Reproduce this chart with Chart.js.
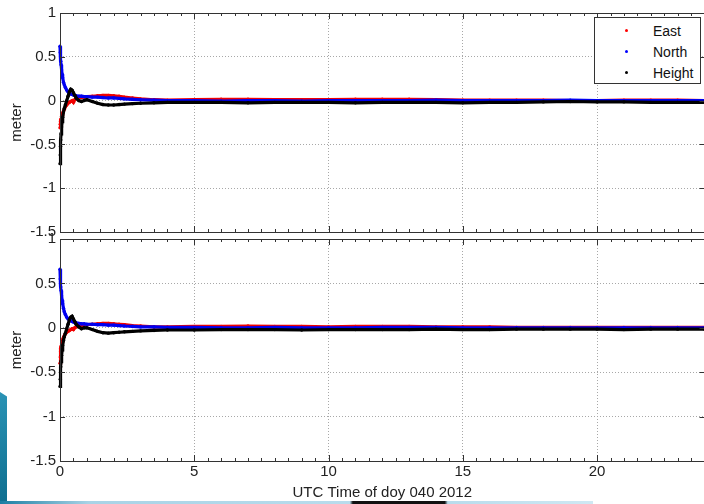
<!DOCTYPE html>
<html>
<head>
<meta charset="utf-8">
<title>Position error, doy 040 2012</title>
<script src="https://cdn.jsdelivr.net/npm/chart.js@4.4.1/dist/chart.umd.min.js"></script>
<style>
    html, body {
        margin: 0;
        padding: 0;
        width: 704px;
        height: 504px;
        overflow: hidden;
        background: #fff;
        font-family: 'Liberation Sans', Arial, sans-serif;
    }
    .panel {
        position: absolute;
        left: 0;
    }
    #topPanel { top: 0; }
    #bottomPanel { top: 226px; }
    .legend {
        position: absolute;
        left: 594px;
        top: 17px;
        width: 105px;
        height: 65px;
        border: 1px solid #333;
        background: #fff;
        font-size: 14px;
        color: #111;
    }
    .legend .row {
        position: absolute;
        left: 0;
        height: 16px;
        line-height: 16px;
    }
    .legend .dot {
        position: absolute;
        left: 30px;
        top: 6px;
        width: 3px;
        height: 3px;
        border-radius: 50%;
    }
    .legend .label {
        position: absolute;
        left: 58px;
        top: 0;
    }
    .edge {
        position: absolute;
        left: 0;
        top: 392px;
        width: 7px;
        height: 112px;
        background: linear-gradient(160deg, #2a93b5, #0e6e8f);
        clip-path: polygon(0 0, 100% 4%, 100% 100%, 0 100%);
    }
    .strip {
        position: absolute;
        left: 0;
        top: 501px;
        width: 593px;
        height: 3px;
        background: linear-gradient(90deg, #1b7ea3 0%, #a9d3e6 15%, #b9dcec 59%, #111 59.5%, #111 75%, #b9dcec 75.5%, #cfe8f3 100%);
    }
</style>
</head>
<body>
<div class="edge"></div>
<div class="strip"></div>
<div class="panel" id="topPanel"><canvas id="topChart" width="712" height="245"></canvas></div>
<div class="panel" id="bottomPanel"><canvas id="bottomChart" width="712" height="278"></canvas></div>
<div class="legend">
    <div class="row" style="top:5px"><span class="dot" style="background:#f00"></span><span class="label">East</span></div>
    <div class="row" style="top:26px"><span class="dot" style="background:#00f"></span><span class="label">North</span></div>
    <div class="row" style="top:47px"><span class="dot" style="background:#000"></span><span class="label">Height</span></div>
</div>
<script>
// epochs in hours of day
const time = [0, 0.01, 0.02, 0.03, 0.04, 0.06, 0.08, 0.1, 0.13, 0.16, 0.2, 0.25, 0.3, 0.35, 0.4, 0.45,
    0.5, 0.55, 0.6, 0.7, 0.8, 0.9, 1.0, 1.2, 1.4, 1.6, 1.8, 2.0, 2.2, 2.4, 2.7, 3.0, 3.5, 4,
    5, 6, 7, 8, 9, 10, 11, 12, 13, 14, 15, 16, 17, 18, 19, 20, 21, 22, 23, 24];

// upper panel (meter)
const eastA = [-0.31, -0.27, -0.24, -0.22, -0.21, -0.18, -0.16, -0.14, -0.12, -0.1, -0.07, -0.05, -0.03, -0.02, -0.01, 0.0,
    -0.02, 0.01, 0.02, 0.03, 0.035, 0.04, 0.045, 0.05, 0.055, 0.06, 0.06, 0.055, 0.05, 0.04, 0.03, 0.02, 0.01, 0.005,
    0.01, 0.015, 0.015, 0.01, 0.01, 0.01, 0.015, 0.015, 0.015, 0.01, 0.005, 0.005, 0.005, 0.005, 0.0, 0.0, 0.005, 0.005, 0.005, 0.0];
const northA = [0.62, 0.55, 0.5, 0.45, 0.41, 0.35, 0.3, 0.26, 0.21, 0.18, 0.15, 0.12, 0.1, 0.085, 0.075, 0.07,
    0.065, 0.06, 0.055, 0.05, 0.05, 0.045, 0.045, 0.04, 0.04, 0.035, 0.03, 0.03, 0.025, 0.02, 0.015, 0.01, 0.005, 0.0,
    0.0, -0.005, 0.0, 0.0, -0.005, 0.0, 0.0, 0.0, 0.0, 0.005, 0.0, 0.0, 0.0, 0.0, 0.005, 0.0, 0.0, 0.0, 0.0, 0.0];
const heightA = [-0.72, -0.62, -0.52, -0.45, -0.38, -0.3, -0.24, -0.19, -0.13, -0.09, -0.05, 0.0, 0.05, 0.1, 0.13, 0.12,
    0.09, 0.06, 0.03, 0.0, -0.01, 0.0, 0.01, -0.01, -0.03, -0.045, -0.05, -0.05, -0.045, -0.04, -0.035, -0.03, -0.025, -0.02,
    -0.02, -0.02, -0.025, -0.02, -0.02, -0.02, -0.025, -0.02, -0.02, -0.02, -0.025, -0.02, -0.02, -0.015, -0.01, -0.015, -0.015, -0.02, -0.02, -0.02];

// lower panel (meter)
const eastB = [-0.4, -0.33, -0.27, -0.23, -0.21, -0.18, -0.15, -0.13, -0.11, -0.09, -0.07, -0.05, -0.04, -0.03, -0.02, -0.01,
    -0.02, 0.0, 0.01, 0.02, 0.025, 0.03, 0.035, 0.04, 0.045, 0.05, 0.05, 0.045, 0.04, 0.035, 0.025, 0.02, 0.01, 0.01,
    0.015, 0.015, 0.02, 0.015, 0.015, 0.01, 0.015, 0.015, 0.015, 0.01, 0.01, 0.01, 0.005, 0.005, 0.005, 0.005, 0.005, 0.005, 0.005, 0.005];
const northB = [0.66, 0.55, 0.5, 0.46, 0.42, 0.36, 0.31, 0.27, 0.22, 0.18, 0.15, 0.12, 0.1, 0.09, 0.08, 0.07,
    0.065, 0.06, 0.055, 0.05, 0.045, 0.045, 0.04, 0.04, 0.035, 0.035, 0.03, 0.03, 0.025, 0.02, 0.015, 0.01, 0.01, 0.005,
    0.005, 0.0, 0.0, 0.005, 0.0, 0.0, 0.0, 0.005, 0.005, 0.005, 0.0, 0.0, 0.0, 0.0, 0.0, 0.0, 0.0, 0.0, 0.0, 0.0];
const heightB = [-0.66, -0.58, -0.5, -0.44, -0.38, -0.31, -0.25, -0.2, -0.14, -0.1, -0.06, -0.01, 0.04, 0.09, 0.12, 0.13,
    0.1, 0.07, 0.04, 0.01, -0.01, 0.0, 0.0, -0.02, -0.04, -0.055, -0.06, -0.055, -0.05, -0.045, -0.04, -0.035, -0.03, -0.025,
    -0.025, -0.02, -0.02, -0.02, -0.025, -0.02, -0.02, -0.02, -0.02, -0.015, -0.02, -0.02, -0.015, -0.015, -0.015, -0.015, -0.02, -0.015, -0.015, -0.015];

const seriesNames = ['East', 'North', 'Height'];
const seriesColors = ['#f00000', '#0000f0', '#000000'];

const xTicks = [0, 5, 10, 15, 20];
const yTicks = [-1.5, -1, -0.5, 0, 0.5, 1];
const xMinorStep = 0.5;

const FONT = { family: "'Liberation Sans', Arial, sans-serif", size: 15 };

// box round the axes with small inward tick marks, MATLAB style
const axesFrame = {
    id: 'axesFrame',
    afterDraw(chart) {
        const { ctx, chartArea: a, scales: { x, y } } = chart;
        ctx.save();
        ctx.strokeStyle = '#333';
        ctx.lineWidth = 1;
        ctx.beginPath();
        for (let v = x.min; v <= x.max + 1e-9; v += xMinorStep) {
            const px = Math.round(x.getPixelForValue(v)) + 0.5;
            const len = xTicks.includes(v) ? 6 : 3;
            ctx.moveTo(px, a.top);
            ctx.lineTo(px, a.top + len);
            ctx.moveTo(px, a.bottom);
            ctx.lineTo(px, a.bottom - len);
        }
        yTicks.forEach(v => {
            const py = Math.round(y.getPixelForValue(v)) + 0.5;
            ctx.moveTo(a.left, py);
            ctx.lineTo(a.left + 5, py);
            ctx.moveTo(a.right, py);
            ctx.lineTo(a.right - 5, py);
        });
        ctx.stroke();
        ctx.strokeRect(Math.round(a.left) + 0.5, Math.round(a.top) + 0.5,
            Math.round(a.right - a.left), Math.round(a.bottom - a.top));
        ctx.restore();
    }
};

function buildDatasets(east, north, height) {
    return [east, north, height].map((vals, i) => ({
        label: seriesNames[i],
        data: time.map((t, k) => ({ x: t, y: vals[k] })),
        showLine: true,
        borderColor: seriesColors[i],
        backgroundColor: seriesColors[i],
        borderWidth: 3.2,
        pointRadius: 1.7,
        pointBorderWidth: 0,
        clip: 4,
        order: 3 - i
    }));
}

function makeChart(canvasId, datasets, withXLabels) {
    const gridColor = ctx => (ctx.tick && ctx.tick.value === 0) ? 'rgba(0,0,0,0)' : '#a8a8a8';
    return new Chart(document.getElementById(canvasId), {
        type: 'scatter',
        data: { datasets },
        plugins: [axesFrame],
        options: {
            responsive: false,
            animation: false,
            layout: { padding: { top: 9, left: 0, right: 7.5, bottom: 0 } },
            plugins: {
                legend: { display: false },
                tooltip: { enabled: false }
            },
            scales: {
                x: {
                    type: 'linear',
                    min: 0,
                    max: 24,
                    afterBuildTicks: s => { s.ticks = xTicks.map(v => ({ value: v })); },
                    afterFit: s => { s.height = withXLabels ? 43 : 10; },
                    grid: { color: gridColor, drawTicks: false, lineWidth: 1 },
                    border: { display: false, dash: [1, 2] },
                    ticks: {
                        display: withXLabels,
                        padding: 2,
                        font: FONT,
                        color: '#222',
                        maxRotation: 0,
                        callback: v => String(v)
                    },
                    title: {
                        display: withXLabels,
                        text: 'UTC Time of doy 040 2012',
                        font: FONT,
                        color: '#222',
                        padding: { top: 0, bottom: 2 }
                    }
                },
                y: {
                    min: -1.5,
                    max: 1,
                    afterBuildTicks: s => { s.ticks = yTicks.map(v => ({ value: v })); },
                    afterFit: s => { s.width = 60; },
                    grid: {
                        color: ctx => (ctx.tick && (ctx.tick.value === 1 || ctx.tick.value === -1.5)) ? 'rgba(0,0,0,0)' : '#a8a8a8',
                        drawTicks: false,
                        lineWidth: 1
                    },
                    border: { display: false, dash: [1, 2] },
                    ticks: { padding: 4, font: FONT, color: '#222', callback: v => String(v) },
                    title: {
                        display: true,
                        text: 'meter',
                        font: FONT,
                        color: '#222',
                        padding: { top: 8, bottom: 0 }
                    }
                }
            }
        }
    });
}

makeChart('topChart', buildDatasets(eastA, northA, heightA), false);
makeChart('bottomChart', buildDatasets(eastB, northB, heightB), true);
</script>
</body>
</html>
